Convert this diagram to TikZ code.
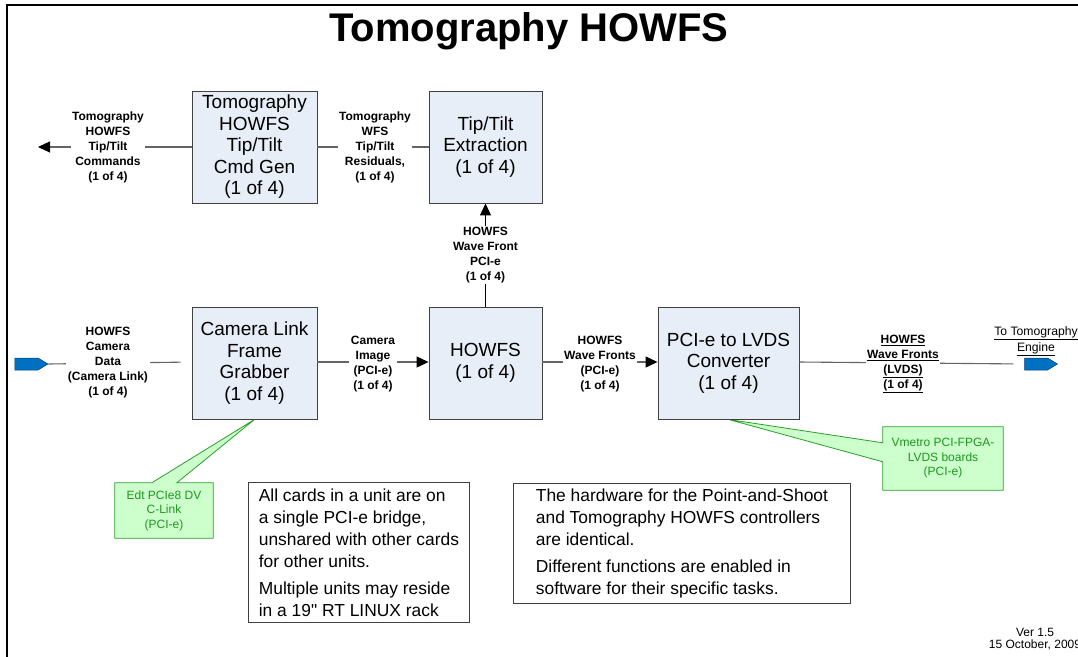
\documentclass[tikz,border=0pt]{standalone}
\usepackage{fontspec}
\setmainfont{Liberation Sans}
\newfontfamily\straightquote{Liberation Sans}[Ligatures=ResetAll]
\usetikzlibrary{arrows.meta,shapes.symbols,calc,backgrounds}
\definecolor{boxfill}{RGB}{232,238,247}
\definecolor{boxline}{RGB}{64,64,64}
\definecolor{wire}{RGB}{100,100,100}
\definecolor{notefill}{RGB}{204,255,204}
\definecolor{noteline}{RGB}{40,160,40}
\definecolor{notetext}{RGB}{30,150,30}
\definecolor{portblue}{RGB}{0,112,192}
\definecolor{portedge}{RGB}{0,60,130}
\begin{document}
\begin{tikzpicture}[x=1pt,y=-1pt,
  unit/.style={draw=boxline, fill=boxfill, line width=0.9pt, align=center, inner sep=0pt,
    minimum height=112pt, font=\fontsize{19}{21.5}\selectfont},
  sig/.style={font=\bfseries\fontsize{12}{15}\selectfont, align=center, fill=white, inner sep=1.5pt},
  wireline/.style={draw=wire, line width=1.1pt},
  tip/.style={-{Triangle[length=12pt,width=11pt,color=black]}},
  port/.style={signal, signal to=east, signal pointer angle=62, fill=portblue, draw=portedge,
    line width=0.5pt, minimum width=33pt, minimum height=12pt, inner sep=0pt},
  note/.style={draw=boxline, line width=0.9pt, align=left, anchor=north west,
    font=\fontsize{17.4}{22}\selectfont, inner sep=0pt},
  callout/.style={fill=notefill, draw=noteline, line width=0.8pt},
  callouttext/.style={text=notetext, align=center, font=\fontsize{12}{14.5}\selectfont, inner sep=0pt},
]
\useasboundingbox (0,0) rectangle (1078,656);
\clip (0,0) rectangle (1078,656);

% page frame
\draw[line width=2.5pt] (7,1000) -- (7,5) -- (1200,5);

% title
\node[font=\bfseries\fontsize{40}{44}\selectfont] (title) at (529,31) {Tomography HOWFS};

% processing units
\node[unit, minimum width=125pt] (cmdgen) at (254.5,147) {Tomography\\HOWFS\\Tip/Tilt\\Cmd Gen\\(1 of 4)};
\node[unit, minimum width=113pt] (tiptilt) at (485.5,147) {Tip/Tilt\\Extraction\\(1 of 4)};
\node[unit, minimum width=125pt] (fg) at (254.5,363) {Camera Link\\Frame\\Grabber\\(1 of 4)};
\node[unit, minimum width=113pt] (howfs) at (485.5,363) {HOWFS\\(1 of 4)};
\node[unit, minimum width=141pt] (conv) at (728.5,363) {PCI-e to LVDS\\Converter\\(1 of 4)};

% off-page ports
\node[port] (portin) at (26.5,364) {};
\node[port] (portout) at (1036,364) {};
\coordinate (cmdout) at (38,147);

% connectors
\draw[wireline, tip] (cmdgen.west) -- (cmdout);
\draw[wireline] (tiptilt.west) -- (cmdgen.east);
\draw[line width=1.1pt, tip] (howfs.north) -- (tiptilt.south);
\draw[wireline] (portin.east) -- ([yshift=1pt]fg.west) [shorten >=11pt];
\draw[wireline, tip] ([yshift=1pt]fg.east) -- ([yshift=1pt]howfs.west);
\draw[wireline, tip] ([yshift=1pt]howfs.east) -- ([yshift=1pt]conv.west);
\draw[wireline, shorten >=11pt] ([yshift=1pt]conv.east) -- (portout.west);

% connector labels
\node[sig] (lcmd) at (108,147) {Tomography\\HOWFS\\Tip/Tilt\\Commands\\(1 of 4)};
\node[sig] (lres) at (375,147) {Tomography\\WFS\\Tip/Tilt\\Residuals,\\(1 of 4)};
\node[sig] (lwf) at (485.5,255) {HOWFS\\Wave Front\\PCI-e\\(1 of 4)};
\node[sig] (lcam) at (108,363) {HOWFS\\Camera\\Data\\(Camera Link)\\(1 of 4)};
\node[sig] (limg) at (373,364) {Camera\\Image\\(PCI-e)\\(1 of 4)};
\node[sig] (lfront) at (600,364) {HOWFS\\Wave Fronts\\(PCI-e)\\(1 of 4)};
\node[sig] (llvds) at (903,364) {\underline{HOWFS}\\\underline{Wave Fronts}\\\underline{(LVDS)}\\\underline{(1 of 4)}};
\node[font=\fontsize{12.2}{16}\selectfont, align=center, inner sep=0pt] (ltomo) at (1036,341)
  {\underline{To Tomography}\\\underline{Engine}};

% hardware callouts
\node[callouttext, minimum width=98pt, minimum height=55pt] (edt) at (164,510.5) {Edt PCIe8 DV\\C-Link\\(PCI-e)};
\node[callouttext, minimum width=120pt, minimum height=63pt] (vmetro) at (943,458.5) {Vmetro PCI-FPGA-\\LVDS boards\\(PCI-e)};
\begin{pgfonlayer}{background}
\path[callout] (edt.north west) -- ($(edt.north west)+(37,0)$) -- (fg.south)
  -- ($(edt.north west)+(62,0)$) -- (edt.north east) -- (edt.south east) -- (edt.south west) -- cycle;
\path[callout] (vmetro.north west) -- (vmetro.north east) -- (vmetro.south east) -- (vmetro.south west)
  -- ($(vmetro.north west)+(0,35)$) -- (conv.south) -- ($(vmetro.north west)+(0,16)$) -- cycle;
\end{pgfonlayer}

% notes
\node[note, minimum width=221pt, minimum height=140pt] (note1) at (248,482)
  {All cards in a unit are on\\a single PCI-e bridge,\\unshared with other cards\\for other units.\\[5pt]
   Multiple units may reside\\in a 19{\straightquote"} RT LINUX rack};
\node[note, minimum width=337pt, minimum height=120pt] (note2) at (513,483)
  {The hardware for the Point-and-Shoot\\and Tomography HOWFS controllers\\are identical.\\[5pt]
   Different functions are enabled in\\software for their specific tasks.};

% version stamp
\node[font=\fontsize{12}{12.5}\selectfont, align=center, inner sep=0pt] (ver) at (1035,639)
  {Ver 1.5\\15 October, 2009};
\end{tikzpicture}
\end{document}
